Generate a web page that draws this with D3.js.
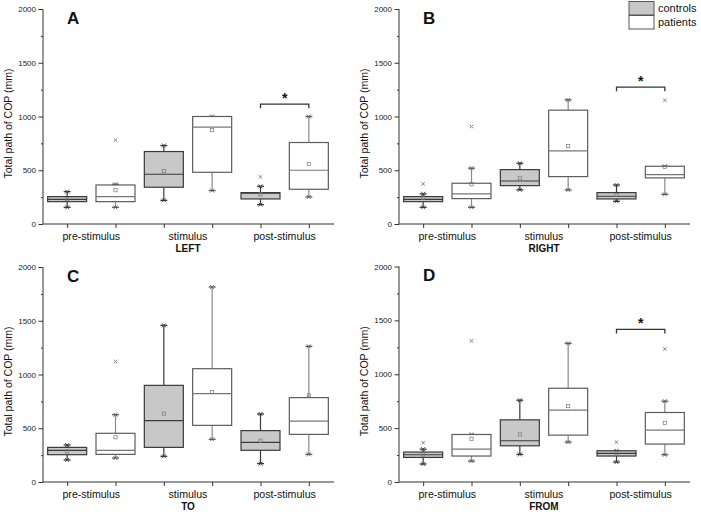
<!DOCTYPE html>
<html><head><meta charset="utf-8">
<script src="https://cdn.jsdelivr.net/npm/d3@7"></script>
<style>body{margin:0;background:#fff}svg{display:block;font-family:"Liberation Sans",Arial,sans-serif}</style>
</head><body><svg id="c" width="701" height="514"></svg>
<script>
const categories = ["pre-stimulus", "stimulus", "post-stimulus"];
const seriesNames = ["controls", "patients"];
const panelLetters = ["A", "B", "C", "D"];
const panelTitles = ["LEFT", "RIGHT", "TO", "FROM"];
const yTicks = [0, 500, 1000, 1500, 2000];

// each row: [whiskerLow, q1, median, q3, whiskerHigh, mean]
// order: controls pre, patients pre, controls stim, patients stim, controls post, patients post
const leftStats = [
  [155, 208, 230, 255, 301, 230],
  [155, 208, 255, 363, 370, 314],
  [220, 342, 463, 674, 730, 491],
  [311, 481, 901, 1000, 1000, 873],
  [180, 233, 286, 292, 351, 276],
  [252, 323, 500, 758, 1000, 559]
];
const rightStats = [
  [155, 208, 230, 255, 280, 245],
  [155, 236, 280, 379, 519, 370],
  [318, 357, 400, 506, 565, 425],
  [317, 441, 680, 1059, 1155, 724],
  [211, 233, 258, 292, 363, 270],
  [276, 429, 460, 537, 537, 531]
];
const toStats = [
  [205, 254, 295, 322, 344, 285],
  [223, 257, 295, 453, 626, 416],
  [239, 322, 571, 899, 1457, 636],
  [397, 527, 822, 1054, 1814, 837],
  [171, 295, 369, 478, 633, 384],
  [257, 443, 567, 785, 1262, 806]
];
const fromStats = [
  [167, 228, 253, 278, 305, 255],
  [194, 241, 305, 441, 441, 401],
  [256, 336, 383, 577, 759, 441],
  [370, 435, 667, 870, 1287, 704],
  [185, 241, 265, 290, 290, 265],
  [253, 352, 481, 645, 750, 549]
];
// outliers: [boxIndex, value]
const leftOutliers = [[1, 780], [4, 438]];
const rightOutliers = [[0, 373], [1, 907], [5, 1150]];
const toOutliers = [[1, 1120]];
const fromOutliers = [[0, 365], [1, 1310], [4, 370], [5, 1235]];
// significance brackets: [fromBox, toBox, value]
const leftSig = [[4, 5, 1115]];
const rightSig = [[4, 5, 1273]];
const toSig = [];
const fromSig = [[4, 5, 1416]];

const panelStats = [leftStats, rightStats, toStats, fromStats];
const panelOutliers = [leftOutliers, rightOutliers, toOutliers, fromOutliers];
const panelSig = [leftSig, rightSig, toSig, fromSig];

const layout = [
  {x0: 43, x1: 334, yTop: 9, yBot: 224},
  {x0: 399, x1: 690, yTop: 9, yBot: 224},
  {x0: 43, x1: 334, yTop: 267, yBot: 482},
  {x0: 399, x1: 690, yTop: 266.5, yBot: 482}
];

const svg = d3.select("#c");
const ctrlFill = "#c8c8c8", ctrlStroke = "#3a3a3a", patStroke = "#5c5c5c", patWhisk = "#8a8a8a";

panelLetters.forEach((letter, pi) => {
  const L = layout[pi];
  const g = svg.append("g");
  const x = d3.scaleLinear().domain([0.5, 6.5]).range([L.x0, L.x1 - 1]);
  const y = d3.scaleLinear().domain([0, 2000]).range([L.yBot, L.yTop]);

  // y axis
  const ya = g.append("g").attr("transform", `translate(${L.x0},0)`)
    .call(d3.axisLeft(y).tickValues(yTicks).tickSize(4.5).tickPadding(2.5).tickFormat(d3.format("d")));
  ya.select(".domain").attr("stroke", "#333").attr("d", `M-0,${L.yBot}V${L.yTop}`);
  ya.selectAll(".tick line").attr("stroke", "#333");
  ya.selectAll(".tick text").attr("font-size", 8).attr("fill", "#222").attr("font-family", "Liberation Sans, Arial");
  // minor ticks
  const ym = g.append("g").attr("transform", `translate(${L.x0},0)`)
    .call(d3.axisLeft(y).tickValues([250, 750, 1250, 1750]).tickSize(2).tickFormat(""));
  ym.select(".domain").remove();
  ym.selectAll(".tick line").attr("stroke", "#333");

  // x axis
  const xa = g.append("g").attr("transform", `translate(0,${L.yBot})`)
    .call(d3.axisBottom(x).tickValues([1, 2, 3, 4, 5, 6]).tickSize(4).tickFormat(""));
  xa.select(".domain").attr("stroke", "#333").attr("d", `M${L.x0},0H${L.x1}`);
  xa.selectAll(".tick line").attr("stroke", "#333");

  // category labels
  g.selectAll("text.cat").data(categories).enter().append("text")
    .attr("x", (d, i) => x(2 * i + 1.5)).attr("y", L.yBot + 16)
    .attr("text-anchor", "middle").attr("font-size", 10.6).attr("fill", "#111").text(d => d);
  g.append("text").attr("x", x(3.5)).attr("y", L.yBot + 28)
    .attr("text-anchor", "middle").attr("font-size", 10).attr("font-weight", "bold").attr("fill", "#111").text(panelTitles[pi]);

  // y title
  g.append("text")
    .attr("transform", `translate(${L.x0 - 31.5},${(L.yTop + L.yBot) / 2 + 7}) rotate(-90)`)
    .attr("text-anchor", "middle").attr("font-size", 10.5).attr("fill", "#111").text("Total path of COP (mm)");

  // panel letter
  g.append("text").attr("x", L.x0 + 24).attr("y", L.yTop + 14.5)
    .attr("font-size", 17).attr("font-weight", "bold").attr("fill", "#111").text(letter);

  const bw = 39, capW = 7;
  const stats = panelStats[pi];
  stats.forEach((s, bi) => {
    const cx = x(bi + 1);
    const isCtrl = bi % 2 === 0;
    const stroke = isCtrl ? ctrlStroke : patStroke;
    const wcol = isCtrl ? ctrlStroke : patWhisk;
    const [wl, q1, med, q3, wh, mean] = s;
    // whiskers
    g.append("line").attr("x1", cx).attr("x2", cx).attr("y1", y(q3)).attr("y2", y(wh)).attr("stroke", wcol).attr("stroke-width", 1.2);
    g.append("line").attr("x1", cx).attr("x2", cx).attr("y1", y(q1)).attr("y2", y(wl)).attr("stroke", wcol).attr("stroke-width", 1.2);
    [wl, wh].forEach(v => {
      g.append("line").attr("x1", cx - capW / 2).attr("x2", cx + capW / 2).attr("y1", y(v)).attr("y2", y(v)).attr("stroke", stroke).attr("stroke-width", 1.3);
      g.append("path").attr("d", `M${cx - 2},${y(v) - 2}L${cx + 2},${y(v) + 2}M${cx - 2},${y(v) + 2}L${cx + 2},${y(v) - 2}`)
        .attr("stroke", stroke).attr("stroke-width", 0.9);
    });
    // box
    g.append("rect").attr("x", cx - bw / 2).attr("y", y(q3)).attr("width", bw).attr("height", y(q1) - y(q3))
      .attr("fill", isCtrl ? ctrlFill : "#fff").attr("stroke", stroke).attr("stroke-width", 1.2);
    g.append("line").attr("x1", cx - bw / 2).attr("x2", cx + bw / 2).attr("y1", y(med)).attr("y2", y(med))
      .attr("stroke", isCtrl ? ctrlStroke : "#777").attr("stroke-width", 1.2);
    // mean
    g.append("rect").attr("x", cx - 1.6).attr("y", y(mean) - 1.6).attr("width", 3.2).attr("height", 3.2)
      .attr("fill", "none").attr("stroke", "#777").attr("stroke-width", 0.7);
  });
  panelOutliers[pi].forEach(([bi, v]) => {
    const cx = x(bi + 1), cy = y(v);
    g.append("path").attr("d", `M${cx - 1.8},${cy - 1.8}L${cx + 1.8},${cy + 1.8}M${cx - 1.8},${cy + 1.8}L${cx + 1.8},${cy - 1.8}`)
      .attr("stroke", "#777").attr("stroke-width", 0.9);
  });
  panelSig[pi].forEach(([a, b, v]) => {
    const xa1 = x(a + 1), xb1 = x(b + 1), yy = y(v);
    g.append("path").attr("d", `M${xa1},${yy + 4}V${yy}H${xb1}V${yy + 4}`)
      .attr("fill", "none").attr("stroke", "#333").attr("stroke-width", 1.3);
    g.append("text").attr("x", (xa1 + xb1) / 2).attr("y", yy - 1).attr("text-anchor", "middle")
      .attr("font-size", 14).attr("font-weight", "bold").attr("fill", "#111").text("*");
  });
});

// legend
const lg = svg.append("g");
seriesNames.forEach((n, i) => {
  lg.append("rect").attr("x", 629).attr("y", 1.5 + i * 14).attr("width", 25).attr("height", 13.5)
    .attr("fill", i === 0 ? ctrlFill : "#fff").attr("stroke", "#555").attr("stroke-width", 1);
  lg.append("text").attr("x", 658).attr("y", 12 + i * 14).attr("font-size", 11).attr("fill", "#111").text(n);
});
</script></body></html>
